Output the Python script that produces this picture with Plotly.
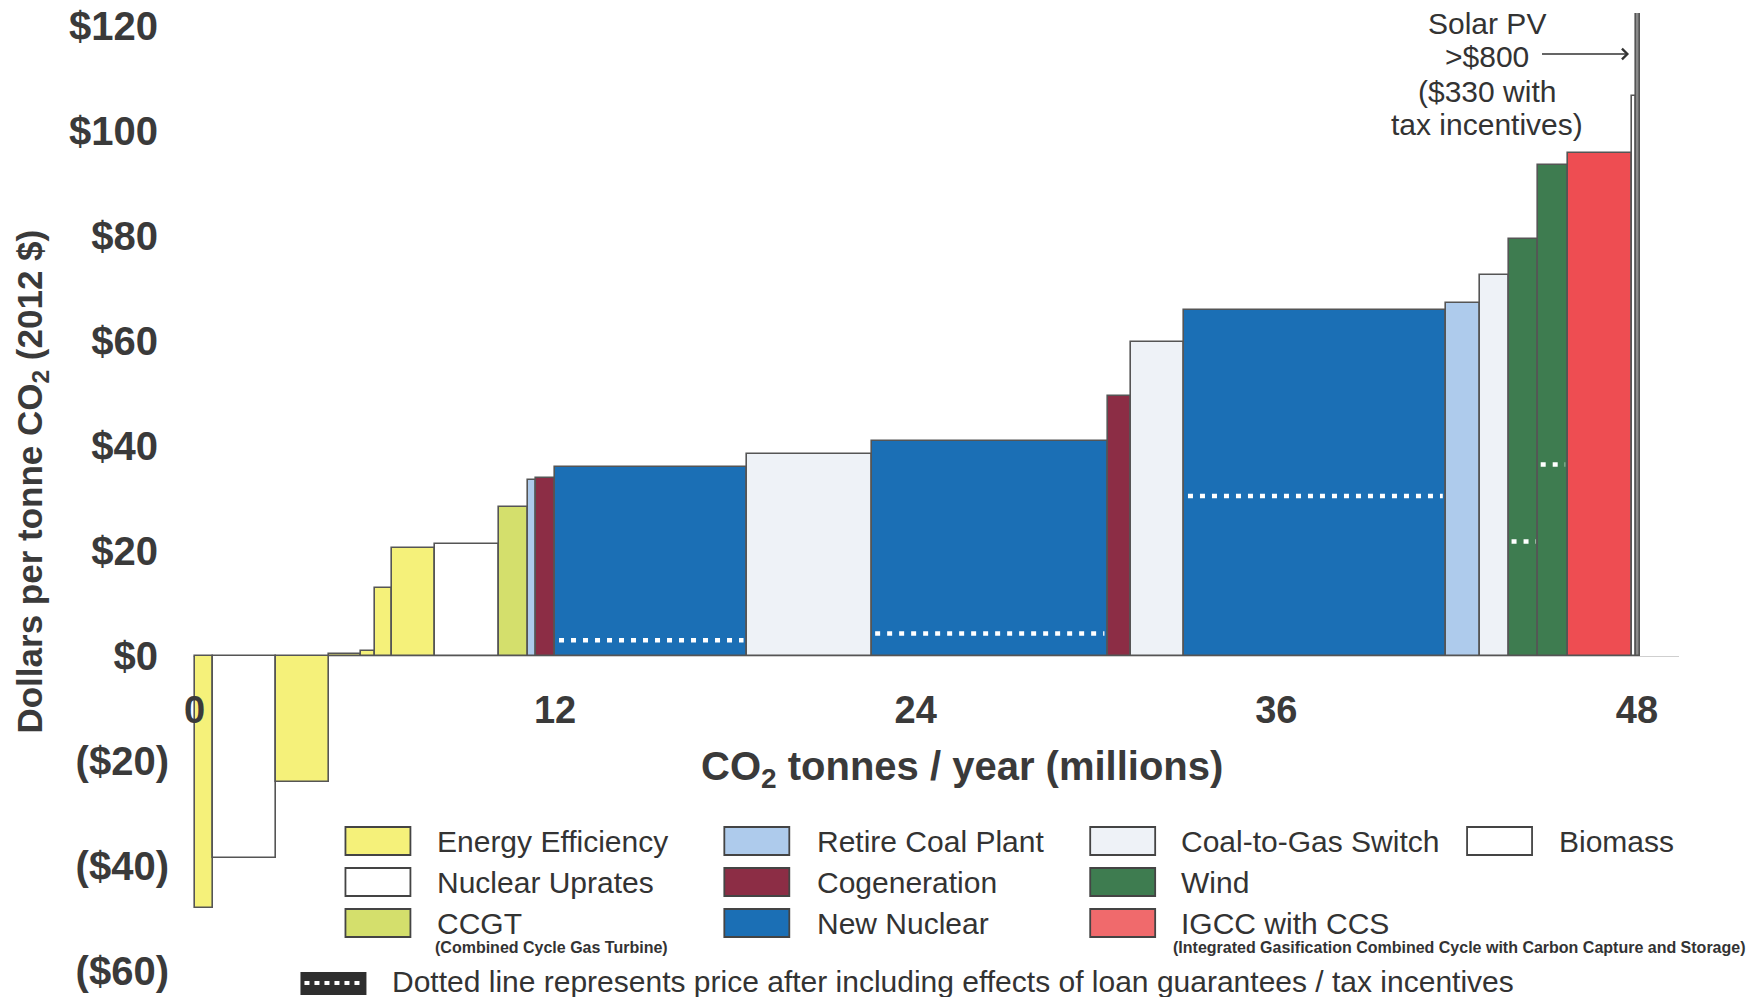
import numpy as np
import plotly.graph_objects as go

# ---------------- data ----------------
categories = ["Energy Efficiency", "Nuclear Uprates", "Energy Efficiency", "Energy Efficiency",
              "Energy Efficiency", "Energy Efficiency", "Energy Efficiency", "Nuclear Uprates",
              "CCGT", "Retire Coal Plant", "Cogeneration", "New Nuclear", "Coal-to-Gas Switch",
              "New Nuclear", "Cogeneration", "Coal-to-Gas Switch", "New Nuclear",
              "Retire Coal Plant", "Coal-to-Gas Switch", "Wind", "Wind", "IGCC with CCS",
              "Biomass", "Solar PV"]
widths = [0.62, 2.08, 1.78, 1.06, 0.47, 0.57, 1.42, 2.14, 0.96, 0.28, 0.63, 6.38, 4.14,
          7.87, 0.78, 1.76, 8.72, 1.12, 0.97, 0.97, 0.97, 2.13, 0.16, 0.12]
costs = [-48, -38.5, -24, 0.4, 1.0, 12.9, 20.5, 21.3, 28.3, 33.5, 34, 36.1, 38.4,
         41.0, 49.5, 59.8, 66.0, 67.3, 72.6, 79.4, 93.5, 95.9, 106.6, 800]
incentive_costs = [None, None, None, None, None, None, None, None, None, None, None, 3.0, None,
                   4.3, None, None, 30.5, None, None, 21.8, 36.5, None, None, 330]

x_ticks = [0, 12, 24, 36, 48]
x_ticktext = ["0", "12", "24", "36", "48"]
y_ticks = [-60, -40, -20, 0, 20, 40, 60, 80, 100, 120]
y_ticktext = ["($60)", "($40)", "($20)", "$0\u00a0", "$20\u00a0", "$40\u00a0", "$60\u00a0",
              "$80\u00a0", "$100\u00a0", "$120\u00a0"]

legend_cols = [["Energy Efficiency", "Nuclear Uprates", "CCGT"],
               ["Retire Coal Plant", "Cogeneration", "New Nuclear"],
               ["Coal-to-Gas Switch", "Wind", "IGCC with CCS"],
               ["Biomass"]]

colors = {
    "Energy Efficiency": "#f5f17a",
    "Nuclear Uprates": "#ffffff",
    "CCGT": "#d4df6c",
    "Retire Coal Plant": "#aecbec",
    "Cogeneration": "#8c2d45",
    "New Nuclear": "#1b6fb5",
    "Coal-to-Gas Switch": "#eef2f7",
    "Wind": "#3e7c50",
    "IGCC with CCS": "#ee4d52",
    "Biomass": "#ffffff",
    "Solar PV": "#8a8a8a",
}
legend_colors = dict(colors)
legend_colors["IGCC with CCS"] = "#f06a6c"

# ---------------- geometry ----------------
W, H = 1758, 997
XR = [-0.05, 49.4]
YR = [-60, 122.5]
L, PW = 192.5, 1486.5
T, PH = 13, 958.0
R = W - L - PW
B = H - T - PH


def px(xp):
    return (xp - L) / PW


def py(yp):
    return (T + PH - yp) / PH


TXT = "#333333"
FONT = "Liberation Sans, Arial, sans-serif"

widths_a = np.array(widths)
lefts = np.concatenate([[0], np.cumsum(widths_a)[:-1]])
mids = lefts + widths_a / 2

fig = go.Figure()
fig.add_trace(go.Bar(
    x=mids, y=costs, width=widths_a, base=0,
    marker=dict(color=[colors[c] for c in categories],
                line=dict(color="#555555", width=1.6)),
    hovertext=categories, hoverinfo="text+y", textposition="none", showlegend=False,
))

for i, v in enumerate(incentive_costs):
    if v is None:
        continue
    inset = min(0.12, widths_a[i] * 0.08)
    fig.add_trace(go.Scatter(
        x=[lefts[i] + inset, lefts[i] + widths_a[i] - inset], y=[v, v], mode="lines",
        line=dict(color="white", width=4.5, dash="5px,7px"),
        hoverinfo="skip", showlegend=False,
    ))

zero_pos = (0 - YR[0]) / (YR[1] - YR[0])

fig.update_layout(
    width=W, height=H,
    margin=dict(l=L, r=R, t=T, b=B, autoexpand=False),
    paper_bgcolor="white", plot_bgcolor="white",
    bargap=0,
    font=dict(family=FONT, color=TXT),
    xaxis=dict(range=XR, tickvals=x_ticks, ticktext=x_ticktext, showgrid=False,
               zeroline=False, showline=False, ticks="", anchor="free", position=zero_pos,
               tickfont=dict(size=38, family=FONT, color="#3a3a3a", weight="bold"),
               ticklabelstandoff=28, automargin=False),
    yaxis=dict(range=YR, tickvals=y_ticks, ticktext=y_ticktext, showgrid=False,
               zeroline=True, zerolinecolor="#cfcfcf", zerolinewidth=1, showline=False,
               ticks="", tickfont=dict(size=40, family=FONT, color="#3a3a3a", weight="bold"),
               ticklabelstandoff=23, automargin=False),
)

anns = []
shapes = []

# axis titles
anns.append(dict(x=px(31), y=py(482), xref="paper", yref="paper", textangle=-90,
                 text="Dollars per tonne CO<sub>2</sub> (2012 $)", showarrow=False,
                 font=dict(size=35, family=FONT, color="#3a3a3a", weight="bold"),
                 xanchor="center", yanchor="middle"))
anns.append(dict(x=px(962), y=py(769), xref="paper", yref="paper",
                 text="CO<sub>2</sub> tonnes / year (millions)", showarrow=False,
                 font=dict(size=40, family=FONT, color="#3a3a3a", weight="bold"),
                 xanchor="center", yanchor="middle"))

# Solar PV annotation
solar_lines = ["Solar PV", ">$800", "($330 with", "tax incentives)"]
for k, line in enumerate(solar_lines):
    anns.append(dict(x=px(1487), y=py(23 + 34 * k), xref="paper", yref="paper", text=line,
                     showarrow=False, font=dict(size=30, family=FONT, color=TXT),
                     xanchor="center", yanchor="middle"))
anns.append(dict(x=px(1629), y=py(54), xref="paper", yref="paper", text=" ",
                 showarrow=True, ax=-90, ay=0, arrowhead=4, arrowsize=1.6, arrowwidth=1.3,
                 arrowcolor="#333333", font=dict(size=10)))

# custom legend
row_y = [841, 882, 923]
sw_left = [345, 724, 1090, 1467]
tx_left = [435, 815, 1179, 1557]
for ci, col in enumerate(legend_cols):
    for ri, name in enumerate(col):
        yc = row_y[ri]
        shapes.append(dict(type="rect", xref="paper", yref="paper",
                           x0=px(sw_left[ci]), x1=px(sw_left[ci] + 65),
                           y0=py(yc + 14), y1=py(yc - 14),
                           fillcolor=legend_colors[name], line=dict(color="#444444", width=1.8)))
        anns.append(dict(x=px(tx_left[ci]), y=py(yc), xref="paper", yref="paper", text=name,
                         showarrow=False, xanchor="left", yanchor="middle",
                         font=dict(size=30, family=FONT, color=TXT)))

anns.append(dict(x=px(433), y=py(947), xref="paper", yref="paper",
                 text="(Combined Cycle Gas Turbine)", showarrow=False, xanchor="left",
                 yanchor="middle", font=dict(size=16, family=FONT, color=TXT, weight="bold")))
anns.append(dict(x=px(1171), y=py(947), xref="paper", yref="paper",
                 text="(Integrated Gasification Combined Cycle with Carbon Capture and Storage)",
                 showarrow=False, xanchor="left", yanchor="middle",
                 font=dict(size=16, family=FONT, color=TXT, weight="bold")))

# dotted-line legend entry
shapes.append(dict(type="rect", xref="paper", yref="paper", x0=px(300), x1=px(366),
                   y0=py(995), y1=py(972), fillcolor="#2e2e2e", line=dict(width=0)))
shapes.append(dict(type="line", xref="paper", yref="paper", x0=px(304), x1=px(364),
                   y0=py(983), y1=py(983), line=dict(color="white", width=4, dash="5px,5px")))
anns.append(dict(x=px(390), y=py(982), xref="paper", yref="paper",
                 text="Dotted line represents price after including effects of loan guarantees / tax incentives",
                 showarrow=False, xanchor="left", yanchor="middle",
                 font=dict(size=30, family=FONT, color=TXT)))

fig.update_layout(annotations=anns, shapes=shapes)
fig.write_html("out.html", config={"displayModeBar": False},
               post_script="document.body.style.margin='0';document.body.style.padding='0';"
                           "document.body.style.overflow='hidden';")
